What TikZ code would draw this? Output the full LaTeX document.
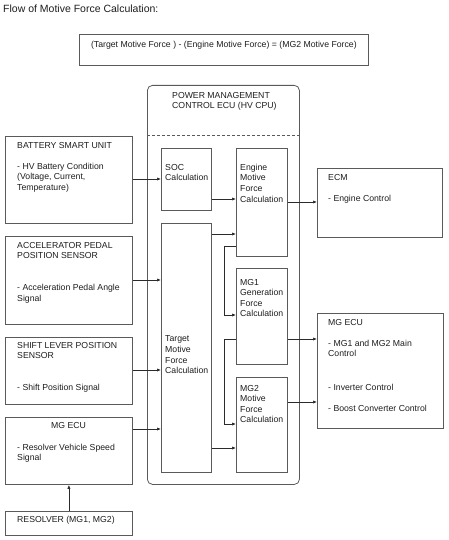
\documentclass[tikz,border=0pt]{standalone}
\usepackage{fontspec}
\setmainfont{Liberation Sans}
\usepackage{xcolor}
\definecolor{frame}{HTML}{5a5a5a}
\definecolor{wire}{HTML}{2b2b2b}
\definecolor{ink}{HTML}{1e1e1e}
\usetikzlibrary{arrows.meta}
\usetikzlibrary{positioning}
\usetikzlibrary{calc}

\tikzset{
	box/.style={draw=frame, line width=0.8pt, inner sep=0pt, anchor=north west},
	txt/.style={inner sep=0pt, anchor=north west, align=left, text=ink, font=\fontsize{8.7}{10.6}\selectfont},
	flow/.style={draw=wire, line width=0.7pt, -{Latex[length=4pt,width=3.2pt]}}
}

\begin{document}
\begin{tikzpicture}[x=1pt,y=-1pt]
		\useasboundingbox (0,0) rectangle (449,540);

		%Titel
		\node[txt, font=\fontsize{10.5}{12}\selectfont] (title) at (3,4.5) {Flow of Motive Force Calculation:};

		%Formel
		\node[box, minimum width=289pt, minimum height=31pt] (formula) at (79,34) {};
		\node[txt, anchor=center] (formulatxt) at ($(formula.north)+(0,11)$) {(Target Motive Force ) - (Engine Motive Force) = (MG2 Motive Force)};

		%HV CPU
		\node[box, rounded corners=5pt, minimum width=152pt, minimum height=399pt] (hvcpu) at (147,85) {};
		\draw[frame, line width=0.8pt, dash pattern=on 3pt off 2pt] (hvcpu.west |- 0,135) -- (hvcpu.east |- 0,135);
		\node[txt] (hvcputxt) at (172,91.8) {POWER MANAGEMENT\\CONTROL ECU (HV CPU)};

		%Rechenbloecke
		\node[box, minimum width=50pt, minimum height=62pt] (soc) at (161,148) {};
		\node[txt] (soctxt) at (165,163.8) {SOC\\Calculation};
		\node[box, minimum width=51pt, minimum height=108pt] (eng) at (236,148) {};
		\node[txt] (engtxt) at (240,163.8) {Engine\\Motive\\Force\\Calculation};
		\node[box, minimum width=50pt, minimum height=249pt] (tmf) at (161,223) {};
		\node[txt] (tmftxt) at (165,335.8) {Target\\Motive\\Force\\Calculation};
		\node[box, minimum width=51pt, minimum height=96pt] (mg1) at (236,268) {};
		\node[txt] (mg1txt) at (240,278.8) {MG1\\Generation\\Force\\Calculation};
		\node[box, minimum width=51pt, minimum height=95pt] (mg2) at (236,377) {};
		\node[txt] (mg2txt) at (240,384.8) {MG2\\Motive\\Force\\Calculation};

		%Eingaenge
		\node[box, minimum width=127pt, minimum height=87pt] (bsu) at (5,136) {};
		\node[txt] (bsutxt) at (17,141.8) {BATTERY SMART UNIT\\[10.6pt]- HV Battery Condition\\(Voltage, Current,\\Temperature)};
		\node[box, minimum width=127pt, minimum height=88pt] (app) at (5,236) {};
		\node[txt] (apptxt) at (17,241.8) {ACCELERATOR PEDAL\\POSITION SENSOR\\[21.2pt]- Acceleration Pedal Angle\\Signal};
		\node[box, minimum width=127pt, minimum height=67pt] (slp) at (5,337) {};
		\node[txt] (slptxt) at (17,341.8) {SHIFT LEVER POSITION\\SENSOR\\[21.2pt]- Shift Position Signal};
		\node[box, minimum width=127pt, minimum height=67pt] (mgl) at (5,417) {};
		\node[txt, anchor=north] (mglhead) at (68.5,421.8) {MG ECU};
		\node[txt] (mgltxt) at (17,443.8) {- Resolver Vehicle Speed\\Signal};
		\node[box, minimum width=127pt, minimum height=24pt] (res) at (5,511) {};
		\node[txt] (restxt) at (17,515.8) {RESOLVER (MG1, MG2)};

		%Ausgaenge
		\node[box, minimum width=125pt, minimum height=69pt] (ecm) at (317,168) {};
		\node[txt] (ecmtxt) at (328,173.8) {ECM\\[10.6pt]- Engine Control};
		\node[box, minimum width=126pt, minimum height=115pt] (mgr) at (317,313) {};
		\node[txt] (mgrtxt) at (328,318.8) {MG ECU\\[10.6pt]- MG1 and MG2 Main\\Control\\[23pt]- Inverter Control\\[10.6pt]- Boost Converter Control};

		%Pfeile
		\draw[flow] (bsu.east |- 0,179) -- (soc.west |- 0,179);
		\draw[flow] (app.east |- 0,280) -- (tmf.west |- 0,280);
		\draw[flow] (slp.east |- 0,370) -- (tmf.west |- 0,370);
		\draw[flow] (mgl.east |- 0,429) -- (tmf.west |- 0,429);
		\draw[flow] (res.north) -- (mgl.south);
		\draw[flow] (soc.east |- 0,199) -- (eng.west |- 0,199);
		\draw[flow] (tmf.east |- 0,234) -- (eng.west |- 0,234);
		\draw[flow] (tmf.east |- 0,448) -- (mg2.west |- 0,448);
		\draw[flow] (eng.west |- 0,246) -- ++(-12,0) |- (mg1.west |- 0,315);
		\draw[flow] (mg1.west |- 0,339) -- ++(-12,0) |- (mg2.west |- 0,424);
		\draw[flow] (eng.east |- 0,202) -- (ecm.west |- 0,202);
		\draw[flow] (mg1.east |- 0,339) -- (mgr.west |- 0,339);
		\draw[flow] (mg2.east |- 0,402) -- (mgr.west |- 0,402);
	\end{tikzpicture}
\end{document}
